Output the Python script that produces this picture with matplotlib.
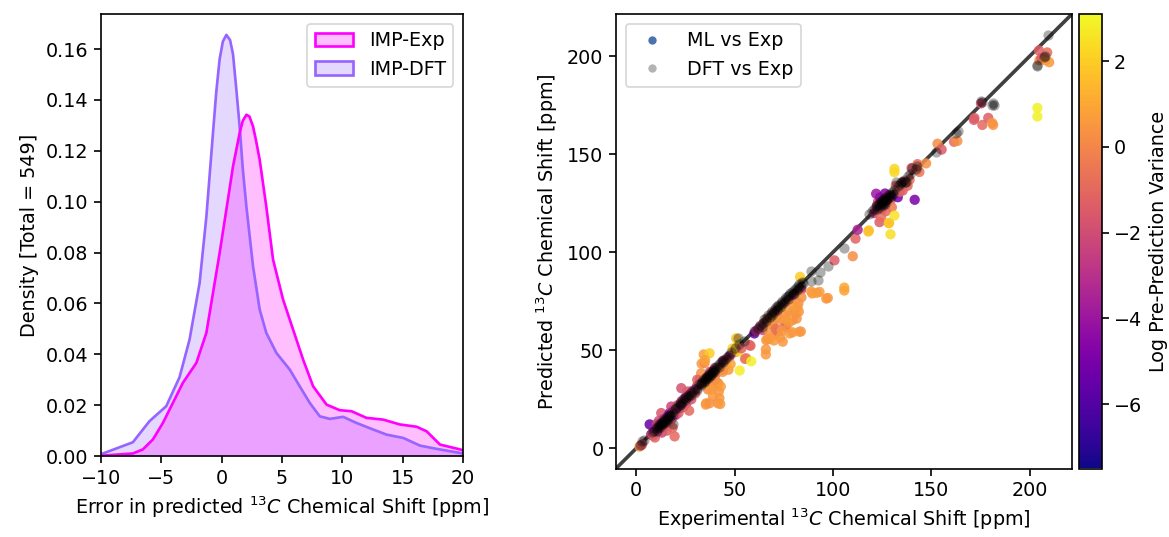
import numpy as np
import matplotlib
matplotlib.use("Agg")
import matplotlib.pyplot as plt
from matplotlib.patches import Patch
from matplotlib.lines import Line2D

# ---------------- Left panel: density curves ----------------
dft_err_x = [-10.0, -7.36, -5.98, -4.59, -3.49, -2.66, -1.83, -1.27, -0.72, -0.45, -0.17, 0.1, 0.39,
             0.7, 0.94, 1.2, 1.49, 1.75, 2.05, 2.6, 3.15, 3.7, 4.54, 5.64, 6.47, 7.3, 8.13, 8.96,
             10.07, 11.17, 12.56, 13.67, 15.05, 16.43, 17.82, 20.0]
dft_err_d = [0.0007, 0.0054, 0.0137, 0.0196, 0.031, 0.0458, 0.068, 0.094, 0.127, 0.143, 0.156, 0.163,
             0.1656, 0.1635, 0.158, 0.145, 0.1296, 0.113, 0.098, 0.0746, 0.0576, 0.0484, 0.0405,
             0.034, 0.0274, 0.0209, 0.0156, 0.0146, 0.0154, 0.013, 0.0104, 0.0084, 0.0071, 0.0041,
             0.0028, 0.001]

exp_err_x = [-10.0, -7.36, -6.53, -5.7, -4.87, -4.04, -3.21, -2.1, -1.27, -0.72, -0.17, 0.39, 0.94,
             1.49, 1.75, 2.05, 2.3, 2.6, 2.85, 3.15, 3.7, 4.26, 5.09, 5.92, 6.75, 7.58, 8.69, 9.79,
             10.76, 12.0, 13.39, 14.77, 16.16, 16.99, 18.09, 20.0]
exp_err_d = [0.0001, 0.001, 0.0026, 0.0065, 0.013, 0.0209, 0.0288, 0.0366, 0.0484, 0.0641, 0.0798,
             0.0969, 0.1139, 0.127, 0.1318, 0.1342, 0.1335, 0.1296, 0.124, 0.1165, 0.098, 0.0772,
             0.0615, 0.0497, 0.0379, 0.0274, 0.0202, 0.018, 0.0176, 0.015, 0.0143, 0.0124, 0.0115,
             0.0097, 0.0045, 0.0023]

# ---------------- Right panel: ML predictions (exp, pred, log variance) ----------------
ml_exp = [1.7, 2.5, 3.0, 6.8, 7.5, 8.5, 9.0, 9.5,
          10.5, 11, 11.5, 12, 12.7, 13, 13.5, 14, 14.5, 15, 15.5, 16, 16.5, 17, 17.8, 18, 18.5, 19.5,
          19, 20, 21, 21.5, 22, 22.9, 23, 24, 25, 25.5, 26.2, 26.9, 27, 28, 29,
          30, 31, 32.2, 33, 33.2, 34, 34.3, 34.7, 35.4, 35.6, 36, 36.5, 37.3, 37.3, 37.5, 38.1, 38.5,
          39, 39.6, 40, 40.5, 41.5, 41.5, 41.7, 42.3, 42.7, 43, 43.5, 44, 45, 46, 46.9, 47.5, 48,
          49, 50, 36, 38, 40, 42, 44, 31, 35,
          50.8, 51.1, 51.7, 52.6, 53.5, 55.3, 55.9, 57.6, 58.1, 58.5, 60.1, 61, 63, 64.4,
          65, 65.9, 65.9, 66.1, 66.9, 67, 68, 68.5, 69.4, 70, 70.5, 71.2, 72, 72, 73.2, 74, 74.5,
          75.4, 75.5, 76.2, 76.5, 77.5, 78, 78.5, 79.5, 79.6, 80, 80.5, 81.3, 81.6, 82, 82.7, 83,
          83.3, 83.7, 84, 67.5, 69, 71, 73, 76, 78, 80, 82.5, 84, 70, 74,
          89, 89.5, 91.8, 93.2, 96.6, 97.4, 100.8, 105.8, 105.8, 110.1, 111.5, 112.6, 118, 118.3,
          121, 122, 122.5, 123, 123.7, 124, 124.5, 125, 125.5, 126, 126.5, 127, 127.5, 128, 128.4,
          128.6, 129.3, 129.5, 130, 131.3, 131.3, 131.3, 132, 133, 134, 135.5, 136, 137.3, 138,
          139, 140, 141.6, 142.3, 143, 144, 147.4,
          153.2, 155.3, 161.6, 163.3, 171.7, 172, 175.3, 176, 179, 181, 181.5, 204, 204, 204.8,
          205, 206, 208, 209, 210]
ml_pred = [0.9, 1.5, 2.0, 12.2, 7.0, 6.5, 9.5, 5.5,
           12.5, 9, 14, 10.5, 18, 8, 12, 15, 11, 14, 9, 16.5, 13, 18, 21.3, 15, 10.5, 6.1,
           19.5, 17, 22, 18, 20.5, 30.7, 24, 21, 26, 23, 29, 19.2, 27.5, 25, 29.5,
           28, 32, 34.9, 38.3, 43.2, 33, 47.9, 43.4, 22.3, 23, 36, 30, 48.5, 23, 39, 36.6, 33,
           26.4, 31.4, 41, 38, 33.2, 23, 33.1, 25.6, 22.6, 31.5, 40, 44.5, 42, 45, 40.1, 47, 43,
           50.9, 49, 33, 30, 35, 29, 39, 35, 45,
           56.1, 51.4, 49.3, 39.7, 51, 45.6, 46, 52.7, 52.3, 44.4, 58.6, 60, 62, 60.3,
           64, 47.9, 50.5, 55.2, 55.7, 66, 56, 67.5, 62.9, 69, 58, 66.3, 59.5, 70.5, 56.6, 72, 54.4,
           62.7, 68, 62, 75, 64, 58.6, 76, 59.2, 65.4, 70, 78, 68.8, 66.2, 72, 69.7, 59.5,
           87.5, 59.6, 81, 60, 64, 61, 66, 66, 70, 73, 74, 77, 55, 60,
           80, 79, 79.3, 79.8, 76.4, 76.7, 95.9, 82, 80.5, 98, 107, 111.5, 110.6, 111.2,
           120, 129.9, 124, 126, 115.4, 128, 118, 122, 127, 124, 130, 121, 125.5, 129, 114.9,
           115, 109.2, 127, 123, 118.8, 142.6, 140.9, 134, 128.1, 131, 131.5, 136, 135.8, 134,
           137, 143, 126.8, 142.6, 145, 141, 145.4,
           155.4, 152.4, 156.4, 156.8, 167.6, 168.5, 176, 165, 168.6, 166, 165, 173.7, 169.3, 203,
           198, 199, 198, 202, 197]
ml_logvar = [0.3, -0.5, -1.5, -5.5, -2.8, -1.8, -3.5, -1.2,
             -2.5, -3, -2.0, -3.8, -1.6, -2.2, -4.2, -3, -2.6, -1.9, -1.4, -3.3, -2.1, -4.5, -2.3, -1.5, -1.0, -1.0,
             -2.8, -3.5, -2.0, -1.2, -3.0, -1.8, -2.5, -1.9, -3.2, -2.2, -1.5, -1.0, -2.7, -1.7, -3.1,
             -1.4, -2.4, -1.6, 0.3, 0.6, -2.0, 0.7, 0.2, 0.5, 0.6, -2.8, 0.2, 2.0, 0.4, -1.8, 0.4, 0.8,
             0.5, 0.6, -2.2, -1.0, 0.5, 0.4, 0.4, 0.5, 0.6, 0.7, -0.5, -2.5, -1.3, -2.0, 0.5, -2.8, 0.9,
             2.2, -1.5, 0.5, 0.6, 0.3, 0.5, 0.4, -1.2, 0.8,
             1.8, 1.9, 2.3, 2.8, -1.2, -0.6, -0.5, -1.3, -1.1, 2.9, -5.3, -3.0, -2.5, -2.0,
             -1.6, 0.6, 0.5, 0.4, 0.5, -2.2, 0.6, 0.1, -1.1, -1.8, 0.7, 0.5, -0.9, -2.6, 0.6, 0.8, 0.5,
             -0.8, 0.3, -0.8, -2.0, 0.5, 0.6, -1.4, 0.5, 0.5, 0.4, -2.2, 0.5, 0.4, 0.6, 0.5, 0.6,
             2.0, 0.5, -1.8, 0.5, 0.6, -0.7, 0.4, 0.6, 0.5, 0.7, 0.5, 0.3, 0.6, 0.5,
             0.6, 0.6, 0.7, 0.6, 0.6, 0.5, -1.4, 1.0, 0.9, 0.2, -1.2, -3.5, 1.6, 1.7,
             -2.5, -4.0, -3.0, -2.0, -1.5, -4.5, -0.8, -1.8, -3.5, -2.2, -4.8, -1.0, -2.5, -3.2, 1.5,
             1.8, 2.4, -1.5, -0.5, 2.5, 2.3, 2.3, -1.2, -5.0, -0.6, -1.3, -2.5, -2.0, -1.0,
             -0.8, -1.6, -5.0, -1.5, -0.8, -0.6, 0.3,
             0.2, -1.4, -0.9, 0.3, -1.6, -1.3, -1.8, -1.0, -1.4, 0.5, 0.4, 2.9, 2.9, -1.3,
             0.6, -1.6, 0.6, -0.8, 0.5]

# ---------------- Right panel: DFT predictions (exp, pred) ----------------
dft_exp = [2, 3, 4, 8, 9, 10, 10.5, 11, 11.5, 12, 12.5, 13, 13.5, 14, 14.5, 15, 15.5, 16, 16.5,
           17, 18, 18.5, 19.5, 18.5, 21, 22, 22.5, 23.5, 24, 25, 26, 27, 28, 29,
           11, 12, 13, 14, 15, 16, 17, 20, 23, 25, 26.5,
           30, 31, 32, 33, 33.5, 34, 34.5, 35, 35.5, 36, 36.5, 37, 37.5, 38, 38.5, 39, 39.5, 40,
           41, 42, 43, 44, 45, 46, 47, 48, 50, 51.8, 52, 55,
           33, 35, 36, 37, 38, 39, 40, 42, 44, 28, 31,
           60, 62, 63, 64, 64.5, 65, 66, 67, 68, 68.5, 69, 70, 70.5, 71, 71.5, 72, 73, 73.5, 74,
           75, 75.5, 76, 77, 77.5, 78, 79, 79.5, 80, 81, 82, 82.5, 83, 84, 84.5, 85,
           66, 69, 72, 74, 77, 80, 83,
           89, 92.6, 89, 93.2, 97.4, 105.9, 118.3,
           120, 121, 122, 122.5, 123, 123.5, 124, 124.5, 125, 125.5, 126, 126.5, 127, 127.5, 128,
           128.5, 129, 129.5, 130, 131, 132.2, 133, 134, 135, 136, 137.3, 138, 139, 140, 142.3, 143,
           124, 125, 126, 127, 128, 125.5, 126.5, 134.5, 136.5, 130.5,
           152.6, 162.7, 163.5, 176, 175.5, 181, 181.5, 182, 203.7, 204, 207.5, 208, 209.6]
dft_pred = [1.5, 3.5, 4, 8.5, 9, 10.5, 9, 11.5, 12.5, 11, 13, 13.5, 12.5, 14.5, 15, 13.5, 16, 15, 17,
            16.5, 18.5, 17.5, 20, 12.2, 21.5, 22, 23, 23.5, 25, 24.5, 26.5, 27, 28.5, 28.5,
            10.5, 12, 12.5, 13.5, 14.5, 16, 17, 20.5, 22.5, 25.5, 26,
            30.5, 31, 33, 32.5, 34, 35, 34, 36, 35.5, 37, 36, 38, 37, 39, 38.5, 40, 39, 41,
            42, 41.5, 44, 45, 45.5, 46.5, 47.5, 49, 51, 56.1, 53, 55,
            33.5, 34.5, 36.5, 37.5, 37.5, 39.5, 40, 43, 44, 27, 29.5,
            60, 61.5, 63, 62, 64, 66, 65, 68, 67, 69, 70, 69.5, 71, 72, 70.5, 73, 72, 74, 75,
            74.5, 76, 77, 76, 78, 79, 80, 78.5, 81, 82, 81, 83, 84, 83, 85, 84.5,
            66.5, 68, 72.5, 73.5, 77.5, 79.5, 82,
            90.6, 85.7, 85.4, 90, 92.9, 102.4, 119.7,
            121, 122, 123.5, 122, 124, 125, 123, 126, 125, 124, 127, 126, 128, 127, 129.5,
            128, 130, 128.5, 131, 132, 135.8, 134, 135, 136, 137, 135.8, 139, 140, 143, 142.6, 144,
            124, 126, 125, 126.5, 127.5, 127, 124.5, 136, 136, 130,
            151, 161.1, 162, 176.5, 177, 175.4, 176, 175, 195, 195.5, 199.5, 200, 210.8]

cbar_ticks = [-6, -4, -2, 0, 2]

# ---------------- Figure ----------------
plt.rcParams['font.family'] = ['DejaVu Sans']
plt.rcParams['font.size'] = 11.5
plt.rcParams['axes.linewidth'] = 1.0
plt.rcParams['xtick.major.width'] = 1.0
plt.rcParams['ytick.major.width'] = 1.0
plt.rcParams['xtick.major.size'] = 4
plt.rcParams['ytick.major.size'] = 4
fig = plt.figure(figsize=(1169 / 120, 537 / 120), dpi=120)

W, H = 1169.0, 537.0
def frac(x0, y0, x1, y1):
    return [x0 / W, 1 - y1 / H, (x1 - x0) / W, (y1 - y0) / H]

ax1 = fig.add_axes(frac(101, 14, 463, 456))
ax2 = fig.add_axes(frac(616, 14, 1072, 468.5))
cax = fig.add_axes(frac(1079, 14, 1101.5, 468.5))

c_exp = '#ff00ff'
c_dft = '#9664ff'
ax1.fill_between(dft_err_x, dft_err_d, color=c_dft, alpha=0.25, linewidth=0)
ax1.fill_between(exp_err_x, exp_err_d, color=c_exp, alpha=0.25, linewidth=0)
ax1.plot(dft_err_x, dft_err_d, color=c_dft, lw=1.6)
ax1.plot(exp_err_x, exp_err_d, color=c_exp, lw=1.6)
ax1.set_xlim(-10, 20)
ax1.set_ylim(0, 0.1738)
ax1.set_yticks([0.0, 0.02, 0.04, 0.06, 0.08, 0.10, 0.12, 0.14, 0.16])
ax1.set_xlabel('Error in predicted $^{13}C$ Chemical Shift [ppm]')
ax1.set_ylabel('Density [Total = 549]')
handles = [Patch(facecolor=(1, 0, 1, 0.25), edgecolor=c_exp, lw=1.6, label='IMP-Exp'),
           Patch(facecolor=(0.588, 0.392, 1, 0.25), edgecolor=c_dft, lw=1.6, label='IMP-DFT')]
ax1.legend(handles=handles, loc='upper right')

lo, hi = -10.3, 221.6
ax2.plot([lo, hi], [lo, hi], color='k', alpha=0.75, lw=2.2, zorder=1)
sc = ax2.scatter(ml_exp, ml_pred, c=ml_logvar, cmap='plasma', vmin=-7.5, vmax=3.1,
                 s=38, linewidths=0, alpha=0.85, zorder=2)
ax2.scatter(dft_exp, dft_pred, color='k', s=38, linewidths=0, alpha=0.32, zorder=3)
ax2.set_xlim(lo, hi)
ax2.set_ylim(lo, hi)
ax2.set_xticks([0, 50, 100, 150, 200])
ax2.set_yticks([0, 50, 100, 150, 200])
ax2.set_xlabel('Experimental $^{13}C$ Chemical Shift [ppm]')
ax2.set_ylabel('Predicted $^{13}C$ Chemical Shift [ppm]')
leg_h = [Line2D([], [], ls='none', marker='o', markersize=5, markeredgewidth=0,
                color='#4c72b0', label='ML vs Exp'),
         Line2D([], [], ls='none', marker='o', markersize=5, markeredgewidth=0,
                color='#b3b3b3', label='DFT vs Exp')]
ax2.legend(handles=leg_h, loc='upper left')

cb = fig.colorbar(sc, cax=cax, ticks=cbar_ticks)
cb.solids.set_alpha(1)
cb.outline.set_linewidth(1.0)
cb.set_label('Log Pre-Prediction Variance')

fig.savefig('out.png', dpi=120)
